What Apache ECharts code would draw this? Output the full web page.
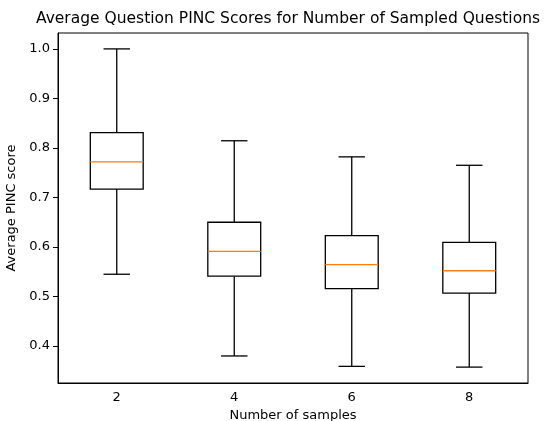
<!DOCTYPE html>
<html>
<head>
<meta charset="utf-8">
<script src="https://cdn.jsdelivr.net/npm/echarts@6/dist/echarts.min.js"></script>
<style>html,body{margin:0;padding:0;background:#fff}#c{width:551px;height:421px}</style>
</head>
<body>
<div id="c"></div>
<script>
const categories = ['2', '4', '6', '8'];
const whiskerLow = [0.545, 0.380, 0.359, 0.3575];
const q1 = [0.717, 0.541, 0.516, 0.507];
const median = [0.772, 0.591, 0.5645, 0.552];
const q3 = [0.831, 0.650, 0.623, 0.6095];
const whiskerHigh = [1.0, 0.8145, 0.782, 0.765];
const yTicks = [0.4, 0.5, 0.6, 0.7, 0.8, 0.9, 1.0];

const data = categories.map((c, i) => [i, whiskerLow[i], q1[i], median[i], q3[i], whiskerHigh[i]]);
const FONT = 'DejaVu Sans';
const chart = echarts.init(document.getElementById('c'), null, {renderer: 'canvas'});
chart.setOption({
  animation: false,
  backgroundColor: '#fff',
  title: {
    text: 'Average Question PINC Scores for Number of Sampled Questions',
    left: 283, top: 6, textAlign: 'center',
    textStyle: {fontFamily: FONT, fontSize: 15.5, fontWeight: 'normal', color: '#000'}
  },
  grid: {left: 58, right: 23, top: 33, bottom: 38, containLabel: false, outerBoundsMode: 'none',
    show: true, borderColor: '#000', borderWidth: 1, backgroundColor: 'transparent'},
  xAxis: {
    type: 'category', data: categories, boundaryGap: true,
    name: 'Number of samples', nameLocation: 'middle', nameGap: 25,
    nameTextStyle: {fontFamily: FONT, fontSize: 13, color: '#000'},
    axisLine: {lineStyle: {color: '#000', width: 1}},
    axisTick: {alignWithLabel: true, length: 5, lineStyle: {color: '#000'}},
    axisLabel: {fontFamily: FONT, fontSize: 13, color: '#000', margin: 8},
    splitLine: {show: false}
  },
  yAxis: {
    type: 'value', min: 0.3254, max: 1.0321,
    name: 'Average PINC score', nameLocation: 'middle', nameGap: 37,
    nameTextStyle: {fontFamily: FONT, fontSize: 13, color: '#000'},
    axisLine: {show: true, lineStyle: {color: '#000', width: 1}},
    axisTick: {show: true, length: 5, lineStyle: {color: '#000'}, customValues: yTicks},
    axisLabel: {fontFamily: FONT, fontSize: 13, color: '#000', margin: 8, customValues: yTicks,
      formatter: v => Number(v).toFixed(1)},
    splitLine: {show: false}
  },
  series: [{
    type: 'custom',
    data: data,
    encode: {x: 0, y: [1, 2, 3, 4, 5]},
    renderItem: function (params, api) {
      const idx = api.value(0);
      const pLo = api.coord([idx, api.value(1)]);
      const pQ1 = api.coord([idx, api.value(2)]);
      const pMed = api.coord([idx, api.value(3)]);
      const pQ3 = api.coord([idx, api.value(4)]);
      const pHi = api.coord([idx, api.value(5)]);
      const bw = api.size([1, 0])[0] * 0.45;
      const cx = pMed[0];
      const cw = bw / 2;
      const ls = {stroke: '#000', lineWidth: 1.3, fill: null};
      return {
        type: 'group',
        children: [
          {type: 'line', shape: {x1: cx, y1: pQ3[1], x2: cx, y2: pHi[1]}, style: ls},
          {type: 'line', shape: {x1: cx, y1: pQ1[1], x2: cx, y2: pLo[1]}, style: ls},
          {type: 'line', shape: {x1: cx - cw / 2, y1: pHi[1], x2: cx + cw / 2, y2: pHi[1]}, style: ls},
          {type: 'line', shape: {x1: cx - cw / 2, y1: pLo[1], x2: cx + cw / 2, y2: pLo[1]}, style: ls},
          {type: 'rect', shape: {x: cx - bw / 2, y: pQ3[1], width: bw, height: pQ1[1] - pQ3[1]}, style: {stroke: '#000', lineWidth: 1.3, fill: '#fff'}},
          {type: 'line', shape: {x1: cx - bw / 2, y1: pMed[1], x2: cx + bw / 2, y2: pMed[1]}, style: {stroke: '#ff7f0e', lineWidth: 1.3}}
        ]
      };
    }
  }]
});
</script>
</body>
</html>
